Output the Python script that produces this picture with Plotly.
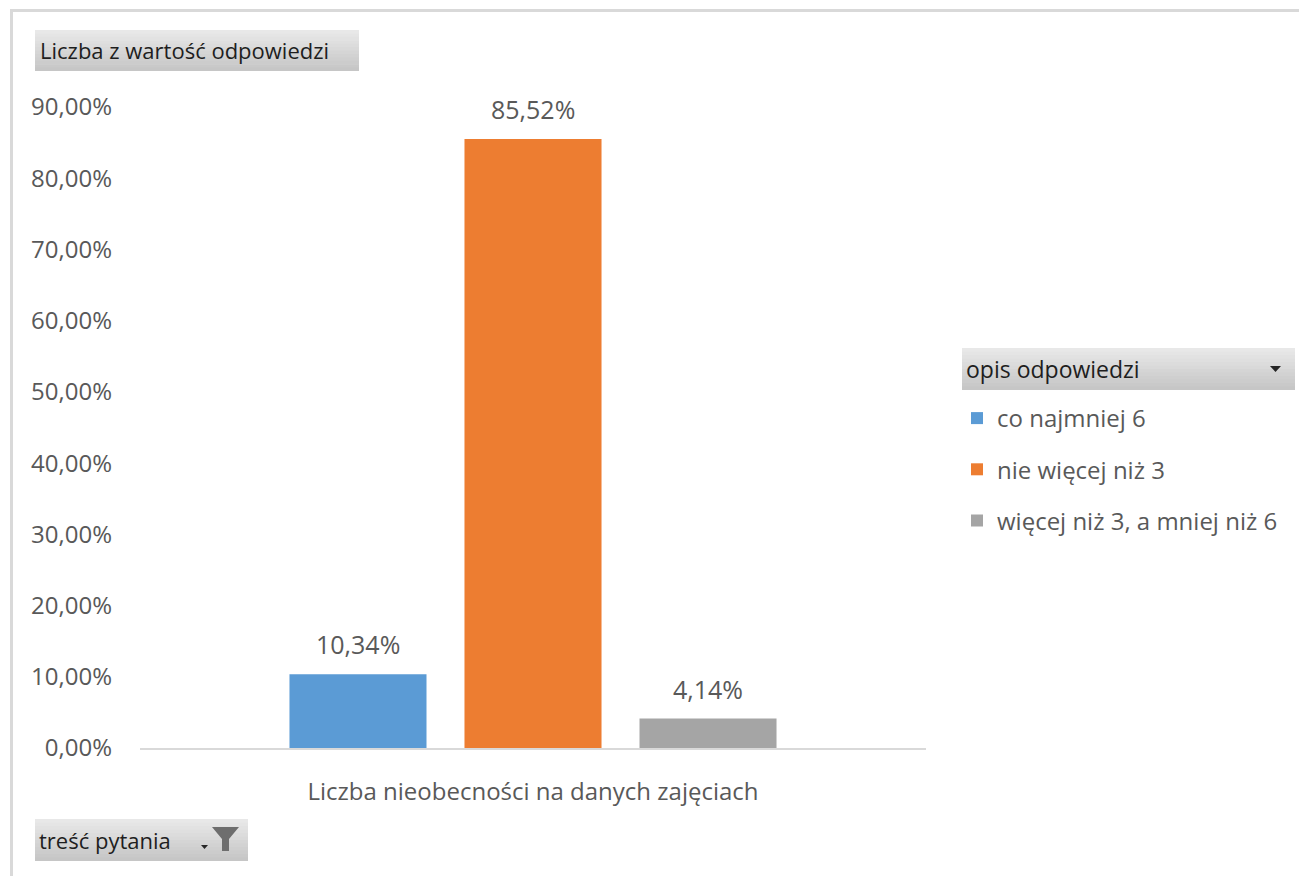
import plotly.graph_objects as go

# ---------------- data ----------------
categories = ["Liczba nieobecności na danych zajęciach"]
series_names = ["co najmniej 6", "nie więcej niż 3", "więcej niż 3, a mniej niż 6"]
series_values = [0.1034, 0.8552, 0.0414]
series_colors = ["#5B9BD5", "#ED7D31", "#A5A5A5"]
y_tick_values = [0.0, 0.1, 0.2, 0.3, 0.4, 0.5, 0.6, 0.7, 0.8, 0.9]
y_tick_labels = ["0,00%", "10,00%", "20,00%", "30,00%", "40,00%",
                 "50,00%", "60,00%", "70,00%", "80,00%", "90,00%"]
title_text = "Liczba z wartość odpowiedzi"
legend_title = "opis odpowiedzi"
filter_text = "treść pytania"

# ---------------- layout constants ----------------
W, H = 1299, 876
L, R, T, B = 140, 926, 107, 748
PW, PH = R - L, B - T
FONT = "Open Sans"
BARGAP = 0.332
BARGROUPGAP = 0.217


def px(xp):
    return (xp - L) / PW


def py(yp):
    return (B - yp) / PH


def fmt(v):
    return f"{v * 100:.2f}".replace(".", ",") + "%"


fig = go.Figure()
for name, val, col in zip(series_names, series_values, series_colors):
    fig.add_trace(go.Bar(
        x=categories, y=[val], name=name, legendgroup=name,
        marker=dict(color=col, line=dict(width=0)),
        hoverinfo="skip",
    ))

# data labels positioned on the grouped bar slots
slot = (1 - BARGAP) / len(series_values)
annotations = []
for i, v in enumerate(series_values):
    off = (i - (len(series_values) - 1) / 2) * slot
    annotations.append(dict(
        x=off, y=v, xref="x", yref="y", text=fmt(v), showarrow=False,
        yanchor="middle", yshift=30,
        font=dict(family=FONT, size=25, color="#595959"),
    ))

shapes = []


def gradient_box(x0, y0, x1, y1, c_top=(0xE8, 0xE8, 0xE8), c_bot=(0xC6, 0xC6, 0xC6), n=12):
    for k in range(n):
        t = k / (n - 1)
        c = tuple(round(c_top[j] + (c_bot[j] - c_top[j]) * t) for j in range(3))
        ya = y0 + (y1 - y0) * k / n
        yb = y0 + (y1 - y0) * (k + 1) / n + 0.6
        shapes.append(dict(type="rect", xref="paper", yref="paper",
                           x0=px(x0), x1=px(x1), y0=py(ya), y1=py(min(yb, y1)),
                           line=dict(width=0), fillcolor="rgb(%d,%d,%d)" % c, layer="below"))


# outer frame (top & left only visible)
shapes.append(dict(type="line", xref="paper", yref="paper", x0=px(10), x1=px(1305),
                   y0=py(10.5), y1=py(10.5), line=dict(color="#D9D9D9", width=3)))
shapes.append(dict(type="line", xref="paper", yref="paper", x0=px(11.5), x1=px(11.5),
                   y0=py(9), y1=py(880), line=dict(color="#D9D9D9", width=3)))

# field buttons
gradient_box(35, 30, 359, 71)
gradient_box(962, 348, 1295, 390)
gradient_box(35, 819, 248, 861)


def path(points):
    return "M " + " L ".join(f"{px(a):.5f},{py(b):.5f}" for a, b in points) + " Z"


# dropdown arrow in legend header
shapes.append(dict(type="path", xref="paper", yref="paper",
                   path=path([(1270, 366), (1281, 366), (1275.5, 372)]),
                   fillcolor="#262626", line=dict(width=0)))
# small arrow + funnel on filter button
shapes.append(dict(type="path", xref="paper", yref="paper",
                   path=path([(201, 845), (208, 845), (204.5, 849)]),
                   fillcolor="#262626", line=dict(width=0)))
shapes.append(dict(type="path", xref="paper", yref="paper",
                   path=path([(212, 827), (239, 827), (229, 839), (229, 851), (222, 851), (222, 839)]),
                   fillcolor="#6E6E6E", line=dict(width=0)))

annotations += [
    dict(x=px(38), y=py(50.5), xref="paper", yref="paper", text=title_text,
         showarrow=False, xanchor="left", yanchor="middle",
         font=dict(family=FONT, size=22, color="#1E1E1E")),
    dict(x=px(964), y=py(369), xref="paper", yref="paper", text=legend_title,
         showarrow=False, xanchor="left", yanchor="middle",
         font=dict(family=FONT, size=23, color="#1E1E1E")),
    dict(x=px(37), y=py(840), xref="paper", yref="paper", text=filter_text,
         showarrow=False, xanchor="left", yanchor="middle",
         font=dict(family=FONT, size=22, color="#1E1E1E")),
]

fig.update_layout(
    width=W, height=H,
    margin=dict(l=L, r=W - R, t=T, b=H - B, pad=0),
    paper_bgcolor="white", plot_bgcolor="white",
    barmode="group", bargap=BARGAP, bargroupgap=BARGROUPGAP,
    font=dict(family=FONT, color="#595959"),
    showlegend=True,
    legend=dict(
        x=px(957), xanchor="left", y=py(396), yanchor="top",
        font=dict(family=FONT, size=24, color="#595959"),
        traceorder="grouped", tracegroupgap=17,
        bgcolor="rgba(0,0,0,0)", borderwidth=0,
    ),
    shapes=shapes,
    annotations=annotations,
    xaxis=dict(
        showgrid=False, zeroline=False, showline=True, linecolor="#D9D9D9", linewidth=2,
        ticks="", tickfont=dict(family=FONT, size=24, color="#595959"),
        ticklabelstandoff=21, fixedrange=True,
    ),
    yaxis=dict(
        range=[0, 0.9], tickvals=y_tick_values, ticktext=y_tick_labels,
        showgrid=False, zeroline=False, showline=False,
        ticks="", tickfont=dict(family=FONT, size=24, color="#595959"),
        ticklabelstandoff=27, fixedrange=True,
    ),
)

fig.write_html("out.html", config={"displayModeBar": False},
               post_script="document.body.style.margin='0';document.body.style.overflow='hidden';")
